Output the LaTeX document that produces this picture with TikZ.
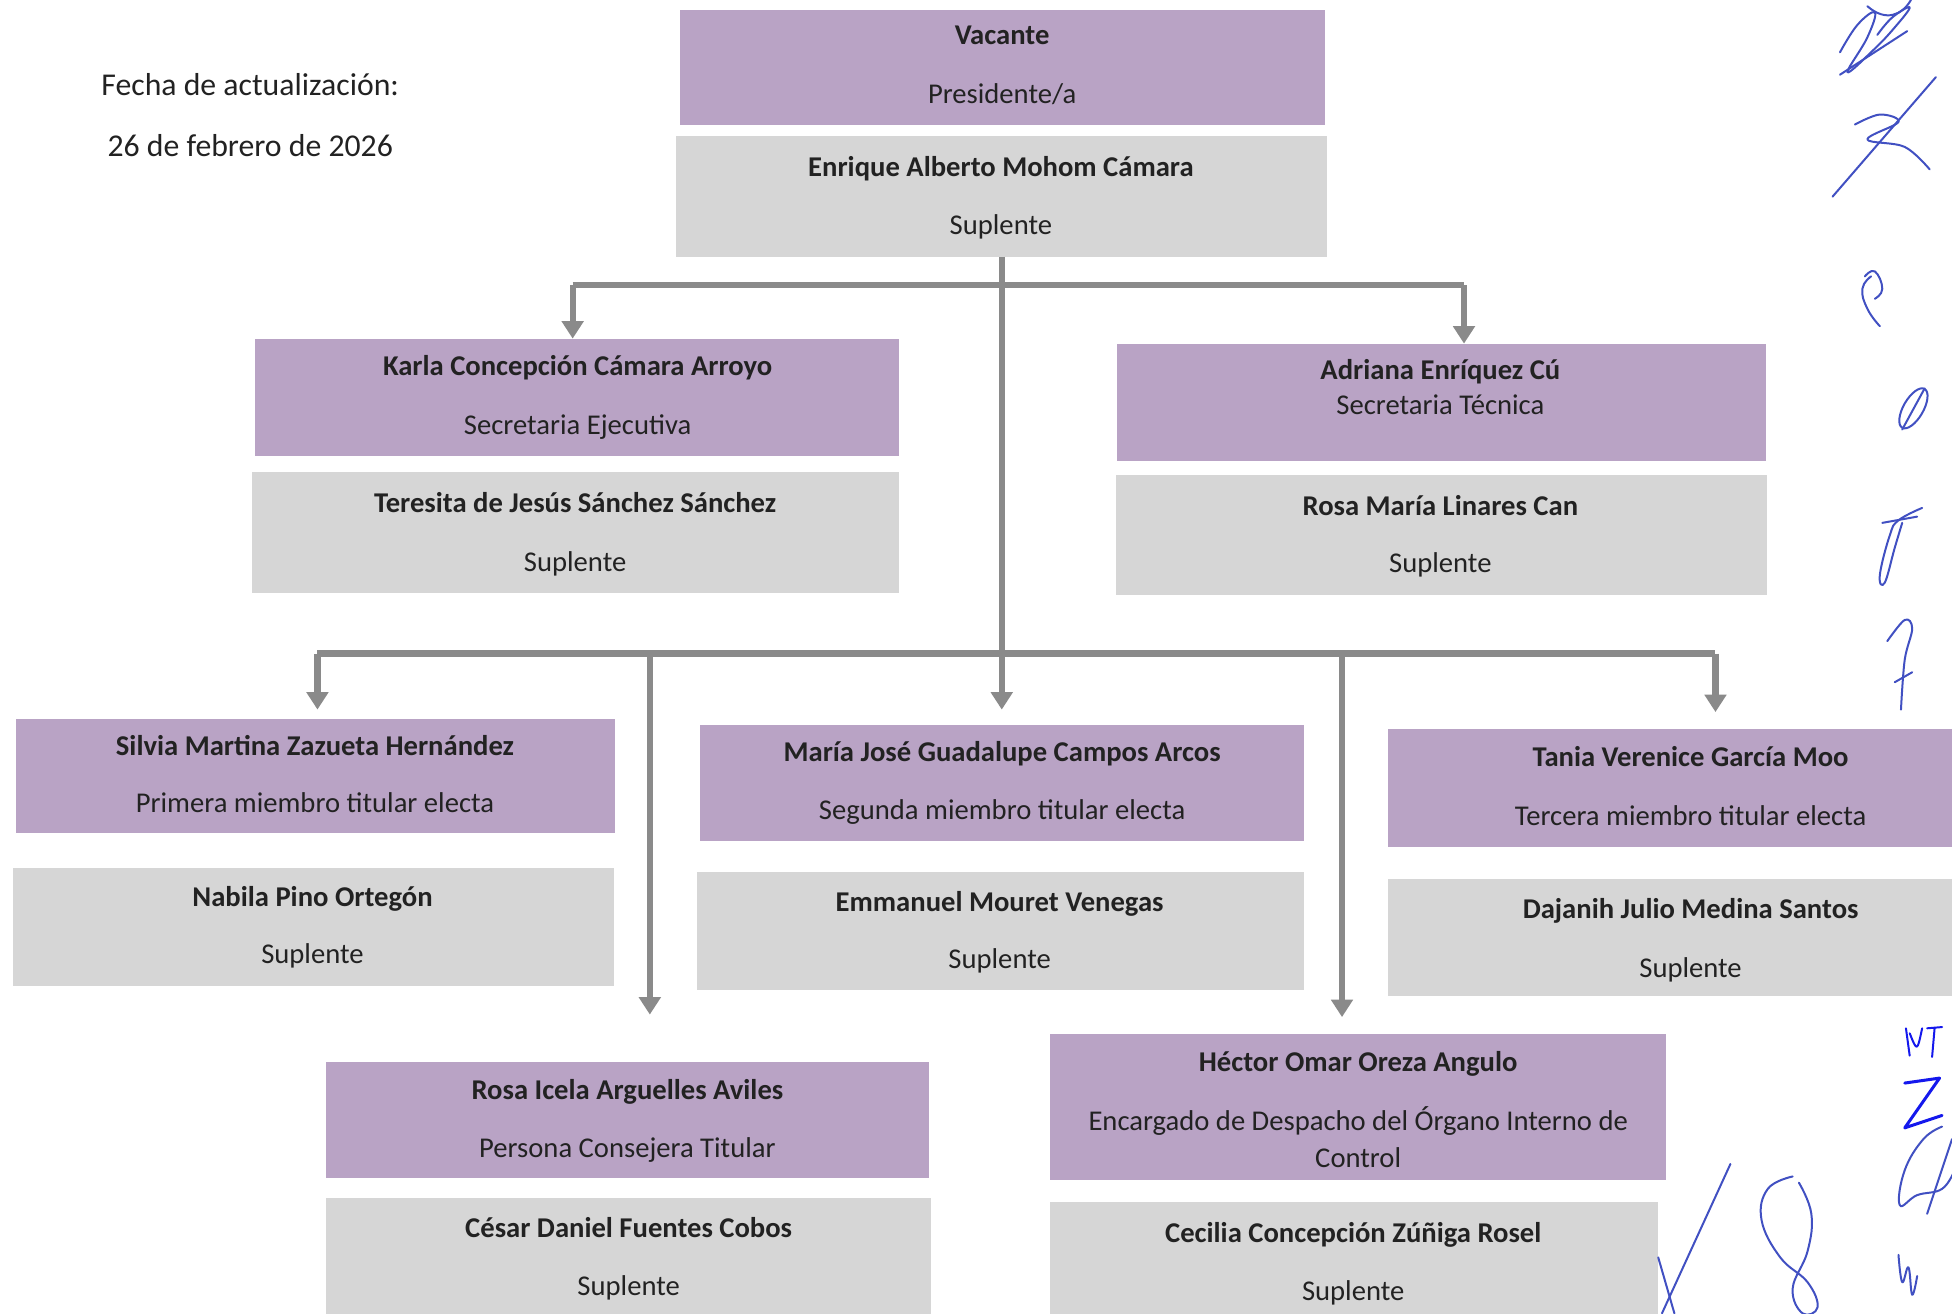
\documentclass[tikz,border=0pt]{standalone}
\usepackage{fontspec}
\setmainfont{Carlito}
\usetikzlibrary{arrows.meta}
\definecolor{lila}{HTML}{B9A3C5}
\definecolor{gris}{HTML}{D6D6D6}
\definecolor{linea}{HTML}{8A8A8A}
\definecolor{tinta}{HTML}{222222}
\definecolor{boli}{HTML}{4150C2}
\tikzset{
  x=1pt, y=-1pt,
  boxbase/.style={rectangle, anchor=north west, inner sep=0pt, draw=none},
  pbox/.style={boxbase, fill=lila},
  gbox/.style={boxbase, fill=gris},
  tx/.style={anchor=base, inner sep=0pt, text=tinta, font=\fontsize{23}{27}\selectfont},
  tb/.style={tx, font=\fontsize{23}{27}\selectfont\bfseries},
  tf/.style={tx, font=\fontsize{25.5}{30}\selectfont},
  conn/.style={draw=linea, line width=5pt},
  arr/.style={conn, -{Triangle[width=17pt,length=14pt]}},
  pen/.style={draw=boli, line width=1.6pt, line cap=round, line join=round},
}
\newcommand{\orgbox}[6]{\node[#2, minimum width=#5-#3, minimum height=#6-#4] (#1) at (#3,#4) {};}
\begin{document}
\begin{tikzpicture}
\useasboundingbox (0,0) rectangle (1568,1055);
\fill[white] (0,0) rectangle (1568,1055);

% date
\node[tf] (fecha1) at (201,77) {Fecha de actualización:};
\node[tf] (fecha2) at (201,126) {26 de febrero de 2026};

% boxes
\orgbox{pres}{pbox}{546}{8}{1064}{100}
\orgbox{presS}{gbox}{543}{109}{1066}{206}
\orgbox{sej}{pbox}{205}{272}{722}{366}
\orgbox{sejS}{gbox}{202}{379}{722}{476}
\orgbox{stec}{pbox}{897}{276}{1418}{370}
\orgbox{stecS}{gbox}{896}{381}{1419}{478}
\orgbox{m1}{pbox}{13}{577}{494}{669}
\orgbox{m1S}{gbox}{10}{697}{493}{792}
\orgbox{m2}{pbox}{562}{582}{1047}{675}
\orgbox{m2S}{gbox}{560}{700}{1047}{795}
\orgbox{m3}{pbox}{1115}{585}{1568}{680}
\orgbox{m3S}{gbox}{1115}{706}{1568}{800}
\orgbox{cons}{pbox}{262}{853}{746}{946}
\orgbox{consS}{gbox}{262}{962}{748}{1055}
\orgbox{oic}{pbox}{843}{830}{1338}{948}
\orgbox{oicS}{gbox}{843}{965}{1332}{1055}

% texts
\node[tb] (t1a) at (805,36) {Vacante};
\node[tx] (t1b) at (805,83) {Presidente/a};
\node[tb] (t2a) at (804,142) {Enrique Alberto Mohom Cámara};
\node[tx] (t2b) at (804,188) {Suplente};
\node[tb] (t3a) at (464,302) {Karla Concepción Cámara Arroyo};
\node[tx] (t3b) at (464,349) {Secretaria Ejecutiva};
\node[tb] (t4a) at (462,412) {Teresita de Jesús Sánchez Sánchez};
\node[tx] (t4b) at (462,459) {Suplente};
\node[tb] (t5a) at (1157,305) {Adriana Enríquez Cú};
\node[tx] (t5b) at (1157,333) {Secretaria Técnica};
\node[tb] (t6a) at (1157,414) {Rosa María Linares Can};
\node[tx] (t6b) at (1157,460) {Suplente};
\node[tb] (t7a) at (253,607) {Silvia Martina Zazueta Hernández};
\node[tx] (t7b) at (253,653) {Primera miembro titular electa};
\node[tb] (t8a) at (251,728) {Nabila Pino Ortegón};
\node[tx] (t8b) at (251,774) {Suplente};
\node[tb] (t9a) at (805,612) {María José Guadalupe Campos Arcos};
\node[tx] (t9b) at (805,658) {Segunda miembro titular electa};
\node[tb] (t10a) at (803,732) {Emmanuel Mouret Venegas};
\node[tx] (t10b) at (803,778) {Suplente};
\node[tb] (t11a) at (1358,616) {Tania Verenice García Moo};
\node[tx] (t11b) at (1358,663) {Tercera miembro titular electa};
\node[tb] (t12a) at (1358,738) {Dajanih Julio Medina Santos};
\node[tx] (t12b) at (1358,785) {Suplente};
\node[tb] (t13a) at (504,883) {Rosa Icela Arguelles Aviles};
\node[tx] (t13b) at (504,930) {Persona Consejera Titular};
\node[tb] (t14a) at (505,994) {César Daniel Fuentes Cobos};
\node[tx] (t14b) at (505,1041) {Suplente};
\node[tb] (t15a) at (1091,861) {Héctor Omar Oreza Angulo};
\node[tx] (t15b) at (1091,908) {Encargado de Despacho del Órgano Interno de};
\node[tx] (t15c) at (1091,938) {Control};
\node[tb] (t16a) at (1087,998) {Cecilia Concepción Zúñiga Rosel};
\node[tx] (t16b) at (1087,1045) {Suplente};

% connectors
\coordinate (b1) at (805,229);
\coordinate (b1L) at (460,229);
\coordinate (b1R) at (1176,229);
\coordinate (b2) at (805,525);
\coordinate (b2L) at (255,525);
\coordinate (b2R) at (1378,525);
\coordinate (b2a) at (522,525);
\coordinate (b2b) at (1078,525);
\coordinate (endA) at (522,815);
\coordinate (endB) at (1078,817);

\draw[arr, shorten >=12pt] (presS.south) -- (m2.north);
\draw[conn] (b1L) -- (b1R);
\draw[conn] (b2L) -- (b2R);
\draw[arr] (b1L) -- (b1L |- sej.north);
\draw[arr] (b1R) -- (b1R |- stec.north);
\draw[arr, shorten >=7pt] (b2L) -- (b2L |- m1.north);
\draw[arr, shorten >=13pt] (b2R) -- (b2R |- m3.north);
\draw[arr] (b2a) -- (endA);
\draw[arr] (b2b) -- (endB);

% handwritten marks
\draw[pen] plot[smooth, tension=0.7] coordinates {(1478,42)(1492,20)(1506,10)(1500,30)(1484,58)(1505,40)(1522,22)(1534,6)(1520,14)(1508,28)};
\draw[pen] (1478,60) -- (1532,25);
\draw[pen] (1500,5) .. controls (1515,18) and (1528,12) .. (1535,0);
\draw[pen] plot[smooth, tension=0.6] coordinates {(1490,100)(1510,92)(1525,98)(1500,112)(1530,118)(1550,136)};
\draw[pen] (1555,62) -- (1472,158);
\draw[pen] plot[smooth, tension=0.8] coordinates {(1503,222)(1496,232)(1500,248)(1510,262)};
\draw[pen] plot[smooth, tension=0.8] coordinates {(1498,222)(1506,218)(1512,232)(1506,240)};
\draw[pen, rotate around={-30:(1537,328)}] (1537,328) ellipse[x radius=8pt, y radius=18pt];
\draw[pen] (1528,345) -- (1546,312);
\draw[pen] plot[smooth, tension=0.7] coordinates {(1544,408)(1525,418)(1518,430)(1510,462)(1514,468)(1522,440)(1528,420)};
\draw[pen] (1512,420) -- (1540,415);
\draw[pen] plot[smooth, tension=0.6] coordinates {(1516,515)(1530,498)(1536,505)(1530,530)(1527,570)};
\draw[pen] (1522,548) -- (1536,540);
\draw[pen, draw=blue!70!boli] (1531,826) -- (1534,848) (1534,830) .. controls (1540,845) .. (1544,826) (1548,826) -- (1560,825) (1554,826) -- (1552,849);
\draw[pen, draw=blue!70!boli, line width=2.4pt] (1530,870) -- (1558,866) -- (1530,906) -- (1560,896);
\draw[pen] plot[smooth, tension=0.7] coordinates {(1560,905)(1545,915)(1530,940)(1526,968)(1540,960)(1560,955)(1570,940)};
\draw[pen] (1568,915) -- (1548,975);
\draw[pen] plot[smooth, tension=0.7] coordinates {(1525,1008)(1528,1030)(1533,1018)(1536,1040)(1540,1025)};
\draw[pen] (1332,1010) -- (1345,1055);
\draw[pen] (1335,1055) -- (1390,935);
\draw[pen] plot[smooth, tension=0.7] coordinates {(1440,945)(1420,955)(1415,980)(1430,1010)(1452,1030)(1460,1050)(1448,1055)(1440,1035)(1452,1005)(1455,975)(1445,950)};
\end{tikzpicture}
\end{document}
